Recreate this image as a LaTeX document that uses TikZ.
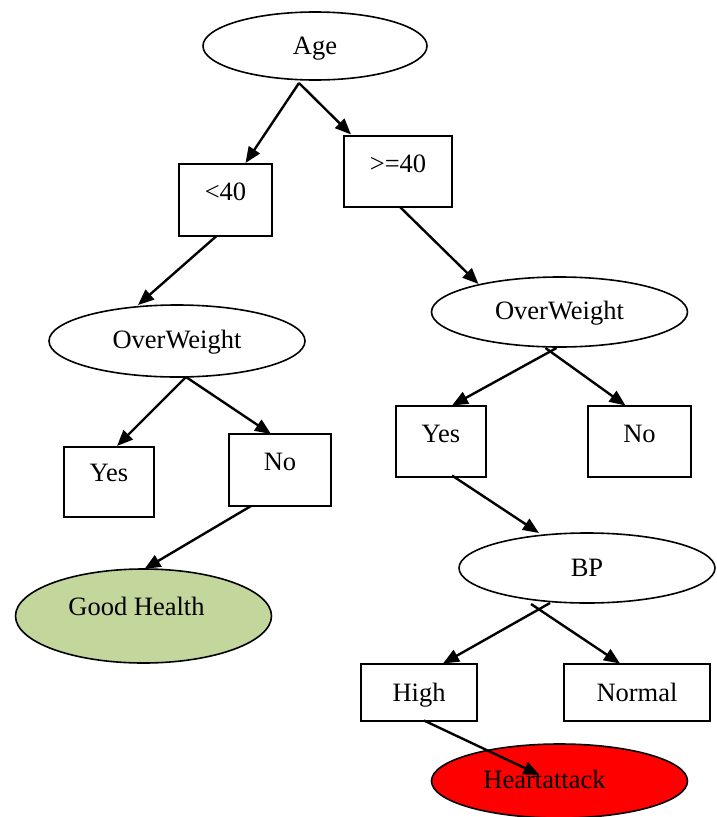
\documentclass[tikz,border=0pt]{standalone}
\usepackage{fontspec}
\setmainfont{Liberation Serif}
\usetikzlibrary{shapes.geometric,arrows.meta,calc}
\definecolor{goodgreen}{HTML}{C3D69B}
\definecolor{hared}{HTML}{FF0000}
\begin{document}
\begin{tikzpicture}[x=1pt,y=-1pt,
  every node/.style={font=\fontsize{26.5}{30}\selectfont, inner sep=0pt, text height=17.5pt},
  ell/.style={ellipse, draw, line width=1.6pt, minimum width=#1},
  ell/.default=256pt,
  boxn/.style={rectangle, draw, line width=1.8pt},
  up/.style={text depth=#1pt},
  arr/.style={line width=2.4pt, -{Triangle[length=16pt,width=13pt]}}]
\useasboundingbox (0,0) rectangle (717,817);
% nodes
\node[ell=224pt, minimum height=68pt, up=0] (age) at (315,46) {Age};
\node[boxn, minimum width=93pt, minimum height=72pt, up=16] (lt) at (225.5,200) {<40};
\node[boxn, minimum width=108pt, minimum height=71pt, up=15] (ge) at (398,171.5) {>=40};
\node[ell, minimum height=72pt, up=2] (owl) at (177,341) {OverWeight};
\node[ell, minimum height=70pt, up=2] (owr) at (559.5,312) {OverWeight};
\node[boxn, minimum width=90pt, minimum height=70pt, up=18] (yesl) at (109,482) {Yes};
\node[boxn, minimum width=102pt, minimum height=72pt, up=16] (nol) at (280,470) {No};
\node[boxn, minimum width=90pt, minimum height=71pt, up=16] (yesr) at (441,441.5) {Yes};
\node[boxn, minimum width=103pt, minimum height=71pt, up=16] (nor) at (639.5,441.5) {No};
\node[ell, minimum height=94pt, fill=goodgreen, up=18] (gh) at (143.5,616) {\hspace*{-14pt}Good Health};
\node[ell, minimum height=70pt, up=0] (bp) at (587,568) {BP};
\node[boxn, minimum width=116pt, minimum height=57pt, up=0] (high) at (419,692.5) {High};
\node[boxn, minimum width=146pt, minimum height=57pt, up=0] (normal) at (637,692.5) {Normal};
\node[ell, minimum height=74pt, fill=hared, up=2] (ha) at (559.5,781) {\hspace*{-30pt}Heartattack};
% connectors
\draw[arr] ($(age)+(-16,37)$) -- ($(lt)+(20,-37)$);
\draw[arr] ($(age)+(-16,37)$) -- ($(ge)+(-47,-37)$);
\draw[arr] ($(lt)+(-9,36)$) -- ($(owl)+(-39,-36)$);
\draw[arr] ($(ge)+(2,35.5)$) -- ($(owr)+(-81,-28)$);
\draw[arr] ($(owl)+(9,36)$) -- ($(yesl)+(8,-36)$);
\draw[arr] ($(owl)+(9,36)$) -- ($(nol)+(-9,-36)$);
\draw[arr] ($(nol)+(-29,36)$) -- ($(gh)+(1,-47)$);
\draw[arr] ($(owr)+(-3,36)$) -- ($(yesr)+(11,-36)$);
\draw[arr] ($(owr)+(-14,36)$) -- ($(nor)+(-14,-36)$);
\draw[arr] ($(yesr)+(11,34)$) -- ($(bp)+(-48,-35)$);
\draw[arr] ($(bp)+(-37,35)$) -- ($(high)+(24,-29)$);
\draw[arr] ($(bp)+(-56,36)$) -- ($(normal)+(-17,-29)$);
\draw[arr] ($(high)+(5,28)$) -- ($(ha)+(-20,-6)$);
\end{tikzpicture}
\end{document}
